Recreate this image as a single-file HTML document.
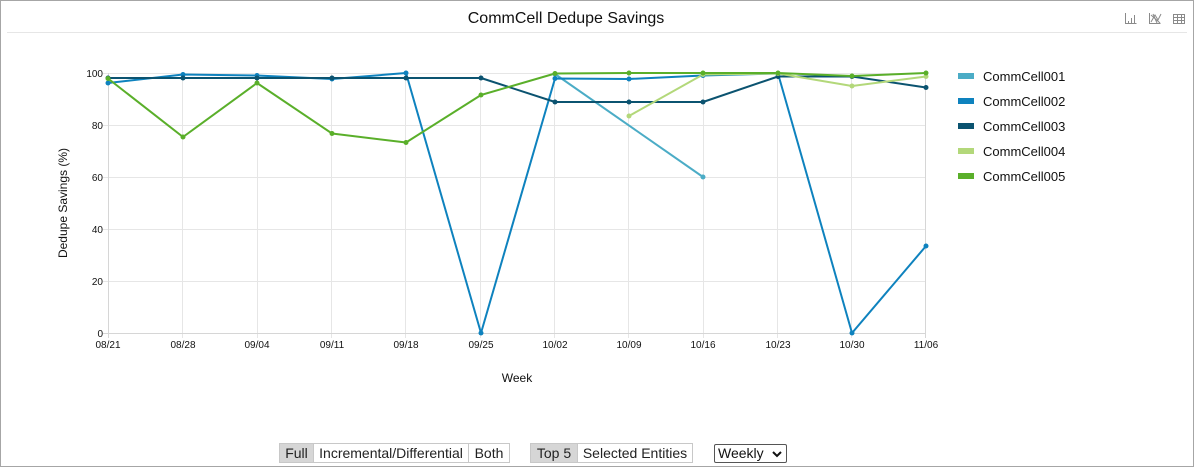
<!DOCTYPE html>
<html><head><meta charset="utf-8">
<style>
html,body{margin:0;padding:0;background:#fff;}
body{width:1194px;height:467px;position:relative;overflow:hidden;font-family:"Liberation Sans",Arial,sans-serif;}
.frame{position:absolute;left:0;top:0;width:1192px;height:465px;border:1px solid #a6a6a6;}
.btn{position:absolute;top:443px;height:20px;box-sizing:border-box;border:1px solid #c8c8c8;font-size:14px;line-height:18px;text-align:center;color:#222;background:#fff;}
.sel{background:#d6d6d6;}
</style></head><body>
<div class="frame"></div>
<svg width="1194" height="467" style="position:absolute;left:0;top:0" font-family="Liberation Sans, Arial, sans-serif">
<text x="566" y="23" font-size="16" text-anchor="middle" fill="#111">CommCell Dedupe Savings</text>
<line x1="7" y1="32.5" x2="1187" y2="32.5" stroke="#e6e6e6" stroke-width="1"/>
<!-- toolbar icons -->
<g stroke="#8a8a8a" stroke-width="1" fill="none">
<path d="M1125.5 13v10.5h11"/>
<path d="M1128.5 21v2M1131.5 18v5M1134.5 15v8"/>
<path d="M1149.5 13v10.5h11"/>
<path d="M1151 22l4-7 3 5 3-6M1151 15l9 8M1153 14l4 9"/>
<rect x="1173.5" y="14.5" width="11" height="9"/>
<path d="M1173.5 17.5h11M1173.5 20.5h11M1177.5 14.5v9M1181.5 14.5v9"/>
</g>
<!-- grid -->
<g stroke="#e6e6e6" stroke-width="1">
<line x1="103" y1="73.5" x2="926" y2="73.5"/>
<line x1="103" y1="125.5" x2="926" y2="125.5"/>
<line x1="103" y1="177.5" x2="926" y2="177.5"/>
<line x1="103" y1="229.5" x2="926" y2="229.5"/>
<line x1="103" y1="281.5" x2="926" y2="281.5"/>
<line x1="182.5" y1="73" x2="182.5" y2="338"/>
<line x1="257.5" y1="73" x2="257.5" y2="338"/>
<line x1="331.5" y1="73" x2="331.5" y2="338"/>
<line x1="405.5" y1="73" x2="405.5" y2="338"/>
<line x1="480.5" y1="73" x2="480.5" y2="338"/>
<line x1="554.5" y1="73" x2="554.5" y2="338"/>
<line x1="628.5" y1="73" x2="628.5" y2="338"/>
<line x1="703.5" y1="73" x2="703.5" y2="338"/>
<line x1="777.5" y1="73" x2="777.5" y2="338"/>
<line x1="851.5" y1="73" x2="851.5" y2="338"/>
</g>
<g stroke="#d6d6d6" stroke-width="1">
<line x1="108.5" y1="73" x2="108.5" y2="338"/>
<line x1="925.5" y1="73" x2="925.5" y2="338"/>
<line x1="103" y1="333.5" x2="926" y2="333.5"/>
</g>
<!-- y labels -->
<g font-size="10" fill="#111" text-anchor="end">
<text x="103" y="77">100</text>
<text x="103" y="129">80</text>
<text x="103" y="181">60</text>
<text x="103" y="233">40</text>
<text x="103" y="285">20</text>
<text x="103" y="337">0</text>
</g>
<g font-size="10" fill="#111" text-anchor="middle">
<text x="108" y="348">08/21</text>
<text x="183" y="348">08/28</text>
<text x="257" y="348">09/04</text>
<text x="332" y="348">09/11</text>
<text x="406" y="348">09/18</text>
<text x="481" y="348">09/25</text>
<text x="555" y="348">10/02</text>
<text x="629" y="348">10/09</text>
<text x="703" y="348">10/16</text>
<text x="778" y="348">10/23</text>
<text x="852" y="348">10/30</text>
<text x="926" y="348">11/06</text>
</g>
<text x="517" y="382" font-size="12" fill="#111" text-anchor="middle">Week</text>
<text transform="translate(67,203) rotate(-90)" font-size="12" fill="#111" text-anchor="middle">Dedupe Savings (%)</text>
<!-- series -->
<g fill="none" stroke-width="2" stroke-linejoin="round">
<polyline stroke="#4bacc6" points="555,74 703,177"/>
<polyline stroke="#0e82be" points="108,83 183,74.5 257,75.5 332,79 406,73 481,333 555,78.5 629,79 703,75.5 778,73.5 852,333 926,246"/>
<polyline stroke="#0b5370" points="108,78 183,78 257,78 332,78 406,78 481,78 555,102 629,102 703,102 778,76.5 852,76.5 926,87.5"/>
<polyline stroke="#b3d87a" points="629,116 703,74.5 778,73.5 852,86 926,76.5"/>
<polyline stroke="#5aaf2a" points="108,78.5 183,137 257,83 332,133.5 406,142.5 481,95 555,73.5 629,73 703,73 778,73 852,76 926,73"/>
</g>
<g fill="#4bacc6"><circle cx="555" cy="74" r="2.5"/><circle cx="703" cy="177" r="2.5"/></g>
<g fill="#0e82be">
<circle cx="108" cy="83" r="2.5"/><circle cx="183" cy="74.5" r="2.5"/><circle cx="257" cy="75.5" r="2.5"/><circle cx="332" cy="79" r="2.5"/><circle cx="406" cy="73" r="2.5"/><circle cx="481" cy="333" r="2.5"/><circle cx="555" cy="78.5" r="2.5"/><circle cx="629" cy="79" r="2.5"/><circle cx="703" cy="75.5" r="2.5"/><circle cx="778" cy="73.5" r="2.5"/><circle cx="852" cy="333" r="2.5"/><circle cx="926" cy="246" r="2.5"/>
</g>
<g fill="#0b5370">
<circle cx="108" cy="78" r="2.5"/><circle cx="183" cy="78" r="2.5"/><circle cx="257" cy="78" r="2.5"/><circle cx="332" cy="78" r="2.5"/><circle cx="406" cy="78" r="2.5"/><circle cx="481" cy="78" r="2.5"/><circle cx="555" cy="102" r="2.5"/><circle cx="629" cy="102" r="2.5"/><circle cx="703" cy="102" r="2.5"/><circle cx="778" cy="76.5" r="2.5"/><circle cx="852" cy="76.5" r="2.5"/><circle cx="926" cy="87.5" r="2.5"/>
</g>
<g fill="#b3d87a">
<circle cx="629" cy="116" r="2.5"/><circle cx="703" cy="74.5" r="2.5"/><circle cx="778" cy="73.5" r="2.5"/><circle cx="852" cy="86" r="2.5"/><circle cx="926" cy="76.5" r="2.5"/>
</g>
<g fill="#5aaf2a">
<circle cx="108" cy="78.5" r="2.5"/><circle cx="183" cy="137" r="2.5"/><circle cx="257" cy="83" r="2.5"/><circle cx="332" cy="133.5" r="2.5"/><circle cx="406" cy="142.5" r="2.5"/><circle cx="481" cy="95" r="2.5"/><circle cx="555" cy="73.5" r="2.5"/><circle cx="629" cy="73" r="2.5"/><circle cx="703" cy="73" r="2.5"/><circle cx="778" cy="73" r="2.5"/><circle cx="852" cy="76" r="2.5"/><circle cx="926" cy="73" r="2.5"/>
</g>
<!-- legend -->
<rect x="958" y="73" width="16" height="6" fill="#4bacc6"/>
<rect x="958" y="98" width="16" height="6" fill="#0e82be"/>
<rect x="958" y="123" width="16" height="6" fill="#0b5370"/>
<rect x="958" y="148" width="16" height="6" fill="#b3d87a"/>
<rect x="958" y="173" width="16" height="6" fill="#5aaf2a"/>
<g font-size="13" fill="#111">
<text x="983" y="81">CommCell001</text>
<text x="983" y="106">CommCell002</text>
<text x="983" y="131">CommCell003</text>
<text x="983" y="156">CommCell004</text>
<text x="983" y="181">CommCell005</text>
</g>
</svg>
<div class="btn sel" style="left:279px;width:35px;">Full</div>
<div class="btn" style="left:313px;width:156px;">Incremental/Differential</div>
<div class="btn" style="left:468px;width:42px;">Both</div>
<div class="btn sel" style="left:530px;width:48px;">Top 5</div>
<div class="btn" style="left:577px;width:116px;">Selected Entities</div>
<div style="position:absolute;left:714px;top:444px;width:73px;height:19px;box-sizing:border-box;border:1px solid #555;border-radius:2px;font-size:14px;line-height:16px;padding-left:3px;color:#111;">Weekly<svg width="10" height="7" style="position:absolute;left:57px;top:6px"><path d="M1 1l4 4 4-4" stroke="#111" stroke-width="2" fill="none"/></svg></div>
</body></html>
